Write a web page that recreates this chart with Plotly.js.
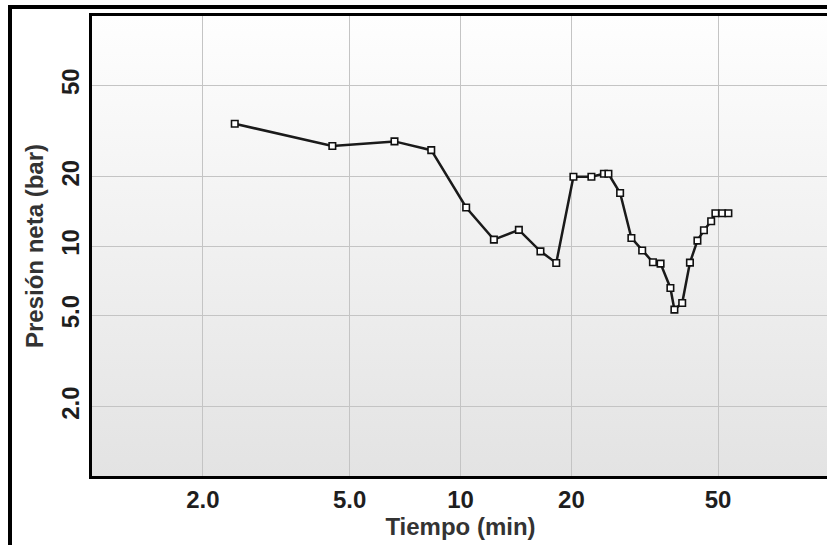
<!DOCTYPE html>
<html>
<head>
<meta charset="utf-8">
<script src="https://cdn.plot.ly/plotly-3.0.1.min.js"></script>
<style>
  html, body { margin: 0; padding: 0; background: #fff; overflow: hidden; }
  #frame { position: absolute; left: 8px; top: 5px; width: 900px; height: 600px;
           border-left: 4px solid #000; border-top: 4px solid #000; pointer-events: none; z-index: 5; }
  #chart { position: absolute; left: 0; top: 0; }
</style>
</head>
<body>
<div id="chart"></div>
<div id="frame"></div>
<script>
// Time (min) and net pressure (bar)
const tiempo = [2.44, 4.49, 6.62, 8.33, 10.36, 12.32, 14.40, 16.48, 18.19, 20.25,
                22.66, 24.50, 25.20, 27.11, 29.09, 31.12, 33.28, 34.91, 37.12, 38.06,
                39.96, 41.94, 43.95, 45.77, 47.89, 49.17, 51.31, 53.33];
const presion = [34.0, 27.2, 28.5, 26.1, 14.7, 10.66, 11.75, 9.48, 8.44, 20.0,
                 20.0, 20.6, 20.6, 17.0, 10.84, 9.56, 8.50, 8.38, 6.57, 5.29,
                 5.65, 8.47, 10.55, 11.70, 12.82, 13.87, 13.87, 13.87];
const xTickVals = [2, 5, 10, 20, 50];
const xTickText = ["2.0", "5.0", "10", "20", "50"];
const yTickVals = [2, 5, 10, 20, 50];
const yTickText = ["2.0", "5.0", "10", "20", "50"];

const grad = 'data:image/svg+xml;utf8,' + encodeURIComponent(
  '<svg xmlns="http://www.w3.org/2000/svg" width="10" height="100" preserveAspectRatio="none">' +
  '<defs><linearGradient id="g" x1="0" y1="0" x2="0" y2="1">' +
  '<stop offset="0" stop-color="#fefefe"/><stop offset="1" stop-color="#e3e3e3"/>' +
  '</linearGradient></defs><rect width="10" height="100" fill="url(#g)"/></svg>');

const trace = {
  x: tiempo, y: presion, type: 'scatter', mode: 'lines+markers',
  line: {color: '#1a1a1a', width: 2.5},
  marker: {symbol: 'square', size: 6.5, color: '#ffffff', line: {color: '#111', width: 1.6}},
  hoverinfo: 'skip'
};

const fam = 'Liberation Sans, Arial, sans-serif';
const tickFont = {family: fam, size: 24, color: '#1e1e1e', weight: 'bold'};
const titleFont = {family: fam, size: 24, color: '#333333', weight: 'bold'};

const layout = {
  width: 840, height: 545,
  margin: {l: 92, r: 11, t: 16, b: 69},
  paper_bgcolor: 'rgba(0,0,0,0)', plot_bgcolor: 'rgba(0,0,0,0)',
  showlegend: false,
  font: tickFont,
  images: [{source: grad, xref: 'paper', yref: 'paper', x: 0, y: 1, sizex: 1, sizey: 1,
            xanchor: 'left', yanchor: 'top', sizing: 'stretch', layer: 'below'}],
  xaxis: {
    type: 'log', range: [0, 2],
    tickvals: xTickVals, ticktext: xTickText, ticks: '',
    showgrid: true, gridcolor: '#c4c4c4', gridwidth: 1,
    showline: true, linecolor: '#000', linewidth: 3, mirror: true,
    zeroline: false, tickfont: tickFont, automargin: false,
    title: {text: 'Tiempo (min)', font: titleFont, standoff: 2}
  },
  yaxis: {
    type: 'log', range: [0, 2],
    tickvals: yTickVals, ticktext: yTickText, ticks: '', tickangle: -90,
    showgrid: true, gridcolor: '#c4c4c4', gridwidth: 1,
    showline: true, linecolor: '#000', linewidth: 3, mirror: true,
    zeroline: false, tickfont: tickFont, automargin: false,
    title: {text: 'Presión neta (bar)', font: titleFont, standoff: 8}
  }
};

Plotly.newPlot('chart', [trace], layout, {staticPlot: true, displayModeBar: false});
</script>
</body>
</html>
